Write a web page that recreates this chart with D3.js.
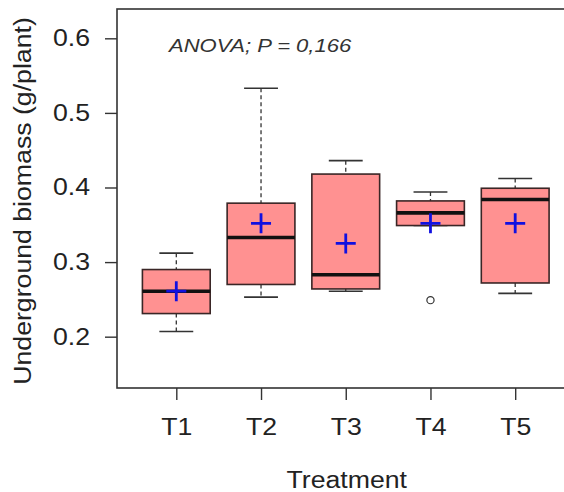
<!DOCTYPE html>
<html>
<head>
<meta charset="utf-8">
<script src="https://cdn.jsdelivr.net/npm/d3@7"></script>
<style>
  html, body { margin: 0; padding: 0; background: #fff; }
  svg { display: block; font-family: "Liberation Sans", Arial, sans-serif; }
</style>
</head>
<body>
<svg id="chart" width="564" height="492"></svg>
<script>
// Five-number summaries per treatment, plus means and outliers
const treatments = ["T1", "T2", "T3", "T4", "T5"];
const whiskerLow  = [0.207, 0.253, 0.261, 0.349, 0.258];
const q1          = [0.231, 0.270, 0.264, 0.349, 0.272];
const medians     = [0.261, 0.333, 0.283, 0.366, 0.384];
const q3          = [0.290, 0.379, 0.418, 0.382, 0.399];
const whiskerHigh = [0.312, 0.533, 0.436, 0.394, 0.412];
const means       = [0.261, 0.352, 0.325, 0.352, 0.352];
const outliers    = [{ group: 4, value: 0.249 }];
const yTicks      = [0.2, 0.3, 0.4, 0.5, 0.6];
const annotation  = "ANOVA; P = 0,166";

const svg = d3.select("#chart");
const ink = "#333";
const textInk = "#222";
const fontSize = 23;
const stretch = 1.16;   // wide text rendering

// group index 1..5 on a continuous x axis
const x = d3.scaleLinear().domain([0.3, 5.7]).range([117, 574.5]);
const y = d3.scaleLinear().domain([0.1312, 0.6393]).range([388, 9]);

const step = x(2) - x(1);
const boxW = step * 0.8;
const stapleW = boxW * 0.5;

const data = treatments.map((t, i) => ({
  name: t, pos: i + 1,
  lo: whiskerLow[i], q1: q1[i], med: medians[i], q3: q3[i], hi: whiskerHigh[i], mean: means[i]
}));

// plot frame
svg.append("rect")
  .attr("x", x(0.3)).attr("y", y(0.6393))
  .attr("width", x(5.7) - x(0.3)).attr("height", y(0.1312) - y(0.6393))
  .attr("fill", "none").attr("stroke", ink).attr("stroke-width", 1.6);

// y axis
const yAxis = d3.axisLeft(y).tickValues(yTicks).tickSize(12).tickPadding(15)
  .tickFormat(d3.format(".1f"));
const gy = svg.append("g").attr("transform", `translate(${x(0.3)},0)`).call(yAxis);
gy.select(".domain").remove();
gy.selectAll("line").attr("stroke", ink).attr("stroke-width", 1.4);
gy.selectAll("text")
  .attr("font-size", fontSize).attr("fill", textInk)
  .attr("font-family", "Liberation Sans, Arial, sans-serif")
  .attr("x", 0)
  .attr("transform", `translate(-27,0) scale(${stretch},1)`);

// x axis
const xAxis = d3.axisBottom(x).tickValues(data.map(d => d.pos)).tickSize(12).tickPadding(19)
  .tickFormat((d, i) => treatments[i]);
const gx = svg.append("g").attr("transform", `translate(0,${y(0.1312)})`).call(xAxis);
gx.select(".domain").remove();
gx.selectAll("line").attr("stroke", ink).attr("stroke-width", 1.4);
gx.selectAll("text")
  .attr("font-size", fontSize).attr("fill", textInk)
  .attr("font-family", "Liberation Sans, Arial, sans-serif")
  .attr("transform", `scale(${stretch},1)`);

// axis titles
svg.append("text")
  .attr("transform", `translate(${(x(0.3) + x(5.7)) / 2 + 1},488) scale(${stretch},1)`)
  .attr("text-anchor", "middle").attr("font-size", fontSize).attr("fill", textInk)
  .text("Treatment");
svg.append("text")
  .attr("transform", `translate(31,201) rotate(-90) scale(${stretch},1)`)
  .attr("text-anchor", "middle").attr("font-size", fontSize).attr("fill", textInk)
  .text("Underground biomass (g/plant)");

// annotation
svg.append("text")
  .attr("transform", `translate(169,52) scale(${stretch},1)`)
  .attr("font-size", 19).attr("font-style", "italic").attr("fill", "#333")
  .text(annotation);

const boxes = svg.append("g").selectAll("g").data(data).join("g");

// dashed whiskers
boxes.append("line")
  .attr("x1", d => x(d.pos)).attr("x2", d => x(d.pos))
  .attr("y1", d => y(d.hi)).attr("y2", d => y(d.q3))
  .attr("stroke", ink).attr("stroke-width", 1.3).attr("stroke-dasharray", "4,3");
boxes.append("line")
  .attr("x1", d => x(d.pos)).attr("x2", d => x(d.pos))
  .attr("y1", d => y(d.q1)).attr("y2", d => y(d.lo))
  .attr("stroke", ink).attr("stroke-width", 1.3).attr("stroke-dasharray", "4,3");

// staples
boxes.append("line")
  .attr("x1", d => x(d.pos) - stapleW / 2).attr("x2", d => x(d.pos) + stapleW / 2)
  .attr("y1", d => y(d.hi)).attr("y2", d => y(d.hi))
  .attr("stroke", ink).attr("stroke-width", 1.6);
boxes.append("line")
  .attr("x1", d => x(d.pos) - stapleW / 2).attr("x2", d => x(d.pos) + stapleW / 2)
  .attr("y1", d => y(d.lo)).attr("y2", d => y(d.lo))
  .attr("stroke", ink).attr("stroke-width", 1.6);

// boxes
boxes.append("rect")
  .attr("x", d => x(d.pos) - boxW / 2).attr("width", boxW)
  .attr("y", d => y(d.q3)).attr("height", d => y(d.q1) - y(d.q3))
  .attr("fill", "#ff9191").attr("stroke", "#3a2626").attr("stroke-width", 1.6);

// medians
boxes.append("line")
  .attr("x1", d => x(d.pos) - boxW / 2).attr("x2", d => x(d.pos) + boxW / 2)
  .attr("y1", d => y(d.med)).attr("y2", d => y(d.med))
  .attr("stroke", "#111").attr("stroke-width", 3.6);

// mean markers
const half = 10;
boxes.append("path")
  .attr("d", d => {
    const cx = x(d.pos), cy = y(d.mean);
    return `M${cx - half},${cy}H${cx + half}M${cx},${cy - half}V${cy + half}`;
  })
  .attr("stroke", "#1010e0").attr("stroke-width", 2.8).attr("fill", "none");

// outliers
svg.append("g").selectAll("circle").data(outliers).join("circle")
  .attr("cx", d => x(d.group)).attr("cy", d => y(d.value)).attr("r", 3.6)
  .attr("fill", "none").attr("stroke", ink).attr("stroke-width", 1.2);
</script>
</body>
</html>
